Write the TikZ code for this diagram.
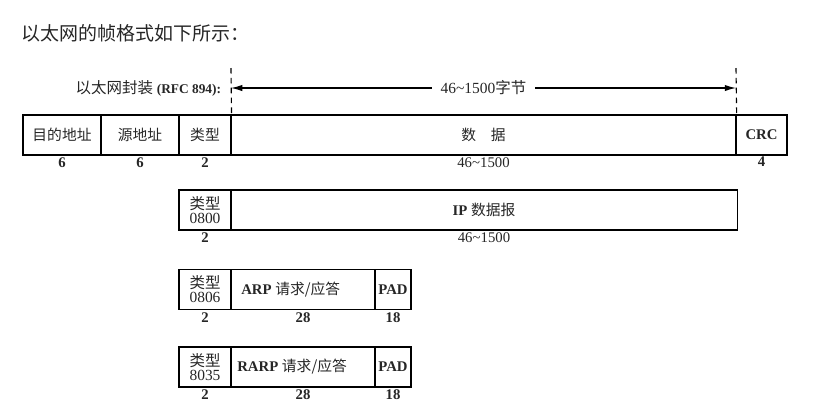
\documentclass[tikz,border=0pt]{standalone}
\usepackage{fontspec}
\setmainfont{Liberation Serif}
\newfontfamily\cjk{Noto Sans CJK SC}
\usetikzlibrary{positioning,arrows.meta}

\begin{document}
\begin{tikzpicture}[
        x=0.025cm,
        y=-0.025cm,
        field/.style={
            draw,
            line width=0.8pt,
            minimum height=1cm,
            inner sep=0pt,
            font=\fontsize{10.5}{12}\selectfont
        },
        typefield/.style={
            field,
            minimum width=1.3cm,
            align=center,
            font=\fontsize{11}{10}\selectfont
        },
        size/.style={
            font=\bfseries\fontsize{10.5}{12}\selectfont,
            inner sep=1.5pt
        },
        marker/.style={
            line width=0.8pt,
            dash pattern=on 4pt off 3pt
        },
        every node/.style={
            text=black!85
        }
    ]

    \useasboundingbox (0,0) rectangle (814,404);

    % Heading
    \node[anchor=west, font=\cjk\fontsize{13.5}{16}\selectfont] (title) at (17,33) {以太网的帧格式如下所示：};

    % Ethernet frame
    \node[field, minimum width=1.95cm] (dst) at (62,135) {\cjk 目的地址};
    \node[field, minimum width=1.95cm] (src) at (140,135) {\cjk 源地址};
    \node[field, minimum width=1.3cm] (type) at (205,135) {\cjk 类型};
    \node[field, minimum width=12.625cm] (data) at (483.5,135) {\cjk 数\quad 据};
    \node[field, minimum width=1.275cm] (crc) at (761.5,135) {\bfseries CRC};

    \node[size, below=0pt of dst] (ldst) {6};
    \node[size, below=0pt of src] (lsrc) {6};
    \node[size, below=0pt of type] (ltype) {2};
    \node[size, below=0pt of data, font=\fontsize{10.5}{12}\selectfont] (ldata) {46\textasciitilde1500};
    \node[size, below=0pt of crc, inner sep=0.5pt] (lcrc) {4};

    % Encapsulation span
    \node[anchor=east, font=\fontsize{11}{13}\selectfont] (encap) at (226,88) {{\cjk 以太网封装} {\bfseries\fontsize{9.5}{11}\selectfont (RFC 894):}};
    \coordinate (ltop) at (231,68);
    \coordinate (rtop) at (736,68);
    \draw[marker] (ltop) -- (type.north east);
    \draw[marker] (rtop) -- (data.north east);

    \coordinate (al) at (231,88);
    \coordinate (ar) at (736,88);
    \draw[{Latex[length=8pt,width=4.5pt]}-{Latex[length=8pt,width=4.5pt]}, line width=0.8pt] (al) -- (ar)
        node[midway, fill=white, inner xsep=6pt, font=\fontsize{11}{13}\selectfont] (span) {46\textasciitilde1500{\cjk 字节}};

    % IP datagram
    \node[typefield] (tip) at (205,210) {{\cjk 类型}\\0800};
    \node[field, minimum width=12.65cm] (ip) at (484,210) {{\bfseries IP} {\cjk 数据报}};

    \node[size, below=0pt of tip] (ltip) {2};
    \node[size, below=0pt of ip, font=\fontsize{10.5}{12}\selectfont] (lip) {46\textasciitilde1500};

    % ARP request/reply
    \node[typefield] (tarp) at (205,289.5) {{\cjk 类型}\\0806};
    \node[field, minimum width=3.6cm] (arp) at (303,289.5) {};
    \node[anchor=west, font=\fontsize{10.5}{12}\selectfont, inner sep=0pt] (arptext) at (241,289.5) {{\bfseries ARP} {\cjk 请求/应答}};
    \node[field, minimum width=0.9cm] (pad1) at (393,289.5) {\bfseries PAD};

    \node[size, below=0pt of tarp] (ltarp) {2};
    \node[size, below=0pt of arp] (larp) {28};
    \node[size, below=0pt of pad1] (lpad1) {18};

    % RARP request/reply
    \node[typefield] (trarp) at (205,367) {{\cjk 类型}\\8035};
    \node[field, minimum width=3.6cm] (rarp) at (303,367) {};
    \node[anchor=west, font=\fontsize{10.5}{12}\selectfont, inner sep=0pt] (rarptext) at (237,367) {{\bfseries RARP} {\cjk 请求/应答}};
    \node[field, minimum width=0.9cm] (pad2) at (393,367) {\bfseries PAD};

    \node[size, below=0pt of trarp] (ltrarp) {2};
    \node[size, below=0pt of rarp] (lrarp) {28};
    \node[size, below=0pt of pad2] (lpad2) {18};

\end{tikzpicture}
\end{document}
